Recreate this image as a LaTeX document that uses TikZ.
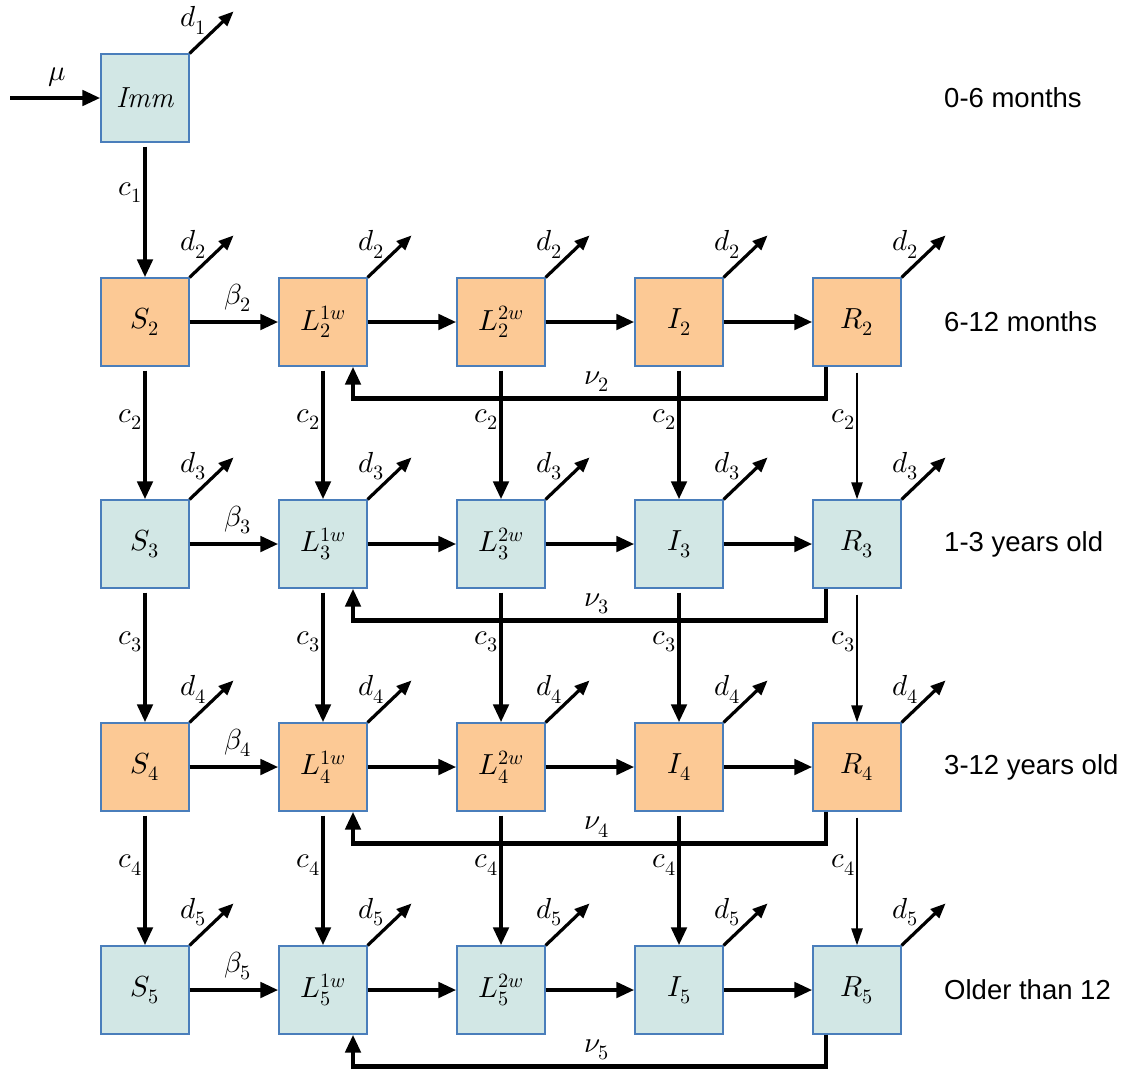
\documentclass[tikz,border=0pt]{standalone}
\usepackage{fontspec}
\usepackage{unicode-math}
\setmathfont{Latin Modern Math}
\usetikzlibrary{arrows.meta,calc}
\newfontfamily\agefamily{Liberation Sans}
\newcommand\mathsz{\fontsize{29}{32}\selectfont}
\newcommand\agesz{\agefamily\fontsize{27.5}{30}\selectfont}
\definecolor{boxblue}{HTML}{D2E7E5}
\definecolor{boxorange}{HTML}{FCC995}
\definecolor{boxborder}{HTML}{4A7EBB}
\begin{document}
\begin{tikzpicture}[x=1pt,y=-1pt,
  box/.style={draw=boxborder, line width=1.2pt, minimum size=88pt, inner sep=0pt, font=\mathsz},
  flow/.style={line width=4.5pt, -{Triangle[length=18pt,width=15pt]}},
  thinflow/.style={line width=2.4pt, -{Triangle[length=17pt,width=11pt]}},
  darrow/.style={line width=3.2pt, -{Triangle[length=15pt,width=12pt]}},
  lab/.style={font=\mathsz, inner sep=1pt},
  age/.style={font=\agesz, anchor=west, inner sep=0pt}]
\useasboundingbox (0,0) rectangle (1131,1068);

% immigration box
\node[box, fill=boxblue] (Imm) at (145,98) {\textit{Imm}};
\coordinate (mu0) at (10,98);
\draw[flow] (mu0) -- (Imm);
\node[lab] (mulab) at (57,77) {$\mu$};
\draw[darrow] (Imm.north east) -- ++(44,-42);
\node[lab] (d1) at ($(Imm.north east)+(4,-33)$) {$d_{1}$};
\node[age] (a1) at (944,98) {0-6 months};

% rows
\foreach \r/\y/\col/\txt in {2/322/boxorange/6-12 months,3/544/boxblue/1-3 years old,4/767/boxorange/3-12 years old,5/990/boxblue/Older than 12}{
  \node[box, fill=\col] (S\r) at (145,\y) {$S_{\r}$};
  \node[box, fill=\col] (La\r) at (323,\y) {$L_{\r}^{1w}$};
  \node[box, fill=\col] (Lb\r) at (501,\y) {$L_{\r}^{2w}$};
  \node[box, fill=\col] (I\r) at (679,\y) {$I_{\r}$};
  \node[box, fill=\col] (R\r) at (857,\y) {$R_{\r}$};
  \node[age] (age\r) at (944,\y) {\txt};
  % horizontal flows
  \draw[flow] (S\r) -- (La\r);
  \node[lab] (b\r) at ($(S\r.east)+(48,-24)$) {$\beta_{\r}$};
  \draw[flow] (La\r) -- (Lb\r);
  \draw[flow] (Lb\r) -- (I\r);
  \draw[flow] (I\r) -- (R\r);
  % deaths
  \foreach \n in {S,La,Lb,I,R}{
    \draw[darrow] (\n\r.north east) -- ++(44,-42);
    \node[lab] at ($(\n\r.north east)+(4,-33)$) {$d_{\r}$};
  }
  % loss of immunity
  \draw[flow] ([xshift=-31pt]R\r.south) -- ++(0,32) -| ([xshift=30pt]La\r.south);
  \node[lab] (nu\r) at (597,\y+60) {$\nu_{\r}$};
}

% ageing
\draw[flow, shorten <=4pt] (Imm) -- node[pos=0.37, left, lab] {$c_{1}$} (S2);
\foreach \r/\n in {2/3,3/4,4/5}{
  \draw[flow, shorten <=4pt] (S\r) -- node[pos=0.4, left, lab] {$c_{\r}$} (S\n);
  \draw[flow, shorten <=4pt] (La\r) -- node[pos=0.4, left, lab] {$c_{\r}$} (La\n);
  \draw[flow, shorten <=4pt] (Lb\r) -- node[pos=0.4, left, lab] {$c_{\r}$} (Lb\n);
  \draw[flow, shorten <=4pt] (I\r) -- node[pos=0.4, left, lab] {$c_{\r}$} (I\n);
  \draw[thinflow, shorten <=6pt] (R\r) -- node[pos=0.4, left, lab] {$c_{\r}$} (R\n);
}
\end{tikzpicture}
\end{document}
